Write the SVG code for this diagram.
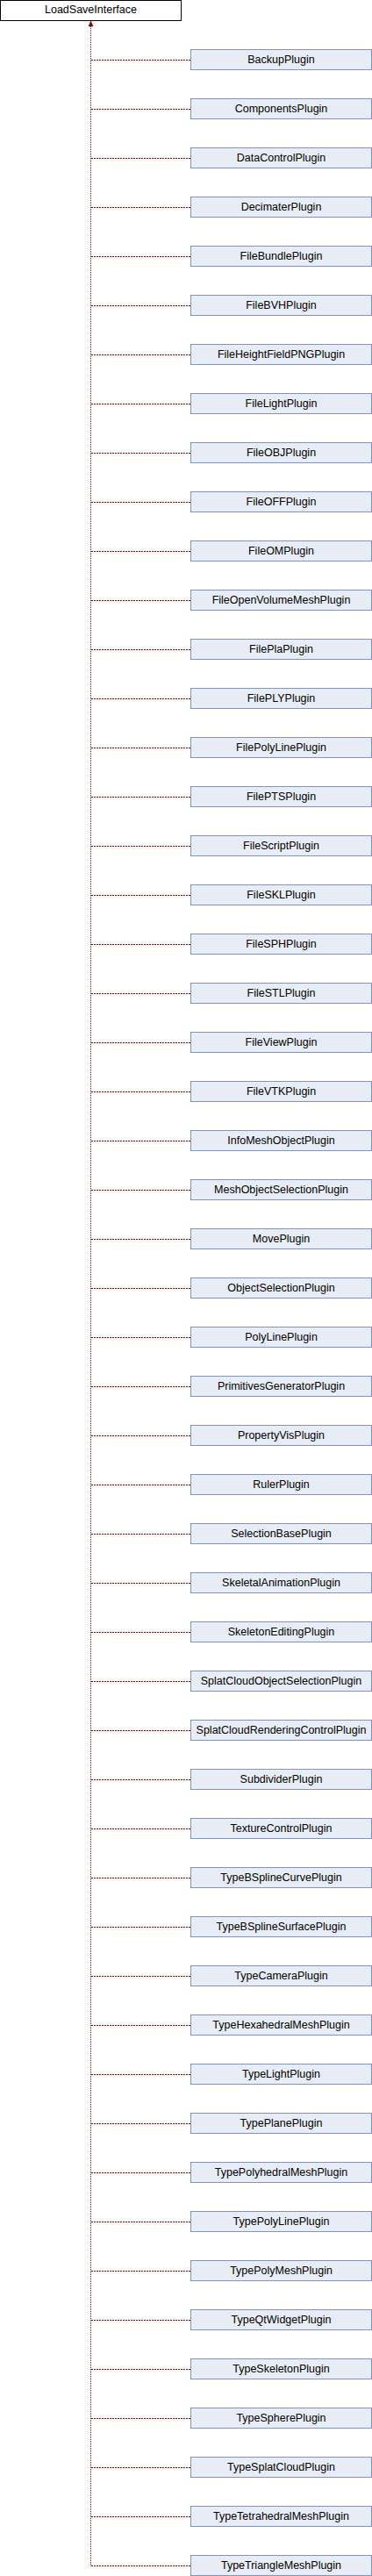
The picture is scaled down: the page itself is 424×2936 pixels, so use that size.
<svg xmlns="http://www.w3.org/2000/svg" width="424" height="2936" viewBox="0 0 424 2936">
<style>
text{font-family:"Liberation Sans",Arial,sans-serif;font-size:12.5px;fill:#000;text-anchor:middle}
.root rect{fill:#fff;stroke:#000;stroke-width:1}
.n rect{fill:#e8ecf5;stroke:#7c95c6;stroke-width:1}
.e{fill:none;stroke:#8b0000;stroke-width:1}
.h{stroke-dasharray:2,1}
.v{stroke-dasharray:1,1}
</style>
<rect width="424" height="2936" fill="#fff"/>
<g id="connectors">
<path class="e v" d="M103.5,30 V2924.5"/>
<polygon points="103.5,24 101,30 106,30" fill="#8b0000" stroke="#8b0000" stroke-width="0.5"/>
<path class="e h" d="M104,68.5H217 M104,124.5H217 M104,180.5H217 M104,236.5H217 M104,292.5H217 M104,348.5H217 M104,404.5H217 M104,460.5H217 M104,516.5H217 M104,572.5H217 M104,628.5H217 M104,684.5H217 M104,740.5H217 M104,796.5H217 M104,852.5H217 M104,908.5H217 M104,964.5H217 M104,1020.5H217 M104,1076.5H217 M104,1132.5H217 M104,1188.5H217 M104,1244.5H217 M104,1300.5H217 M104,1356.5H217 M104,1412.5H217 M104,1468.5H217 M104,1524.5H217 M104,1580.5H217 M104,1636.5H217 M104,1692.5H217 M104,1748.5H217 M104,1804.5H217 M104,1860.5H217 M104,1916.5H217 M104,1972.5H217 M104,2028.5H217 M104,2084.5H217 M104,2140.5H217 M104,2196.5H217 M104,2252.5H217 M104,2308.5H217 M104,2364.5H217 M104,2420.5H217 M104,2476.5H217 M104,2532.5H217 M104,2588.5H217 M104,2644.5H217 M104,2700.5H217 M104,2756.5H217 M104,2812.5H217 M104,2868.5H217 M104,2924.5H217"/>
</g>
<g id="LoadSaveInterface" class="root"><rect x="0.5" y="0.5" width="206" height="23"/><text x="103.5" y="15.4">LoadSaveInterface</text></g>
<g id="BackupPlugin" class="n"><rect x="217.5" y="56.5" width="206" height="23"/><text x="320.5" y="71.7">BackupPlugin</text></g>
<g id="ComponentsPlugin" class="n"><rect x="217.5" y="112.5" width="206" height="23"/><text x="320.5" y="127.7">ComponentsPlugin</text></g>
<g id="DataControlPlugin" class="n"><rect x="217.5" y="168.5" width="206" height="23"/><text x="320.5" y="183.7">DataControlPlugin</text></g>
<g id="DecimaterPlugin" class="n"><rect x="217.5" y="224.5" width="206" height="23"/><text x="320.5" y="239.7">DecimaterPlugin</text></g>
<g id="FileBundlePlugin" class="n"><rect x="217.5" y="280.5" width="206" height="23"/><text x="320.5" y="295.7">FileBundlePlugin</text></g>
<g id="FileBVHPlugin" class="n"><rect x="217.5" y="336.5" width="206" height="23"/><text x="320.5" y="351.7">FileBVHPlugin</text></g>
<g id="FileHeightFieldPNGPlugin" class="n"><rect x="217.5" y="392.5" width="206" height="23"/><text x="320.5" y="407.7">FileHeightFieldPNGPlugin</text></g>
<g id="FileLightPlugin" class="n"><rect x="217.5" y="448.5" width="206" height="23"/><text x="320.5" y="463.7">FileLightPlugin</text></g>
<g id="FileOBJPlugin" class="n"><rect x="217.5" y="504.5" width="206" height="23"/><text x="320.5" y="519.7">FileOBJPlugin</text></g>
<g id="FileOFFPlugin" class="n"><rect x="217.5" y="560.5" width="206" height="23"/><text x="320.5" y="575.7">FileOFFPlugin</text></g>
<g id="FileOMPlugin" class="n"><rect x="217.5" y="616.5" width="206" height="23"/><text x="320.5" y="631.7">FileOMPlugin</text></g>
<g id="FileOpenVolumeMeshPlugin" class="n"><rect x="217.5" y="672.5" width="206" height="23"/><text x="320.5" y="687.7">FileOpenVolumeMeshPlugin</text></g>
<g id="FilePlaPlugin" class="n"><rect x="217.5" y="728.5" width="206" height="23"/><text x="320.5" y="743.7">FilePlaPlugin</text></g>
<g id="FilePLYPlugin" class="n"><rect x="217.5" y="784.5" width="206" height="23"/><text x="320.5" y="799.7">FilePLYPlugin</text></g>
<g id="FilePolyLinePlugin" class="n"><rect x="217.5" y="840.5" width="206" height="23"/><text x="320.5" y="855.7">FilePolyLinePlugin</text></g>
<g id="FilePTSPlugin" class="n"><rect x="217.5" y="896.5" width="206" height="23"/><text x="320.5" y="911.7">FilePTSPlugin</text></g>
<g id="FileScriptPlugin" class="n"><rect x="217.5" y="952.5" width="206" height="23"/><text x="320.5" y="967.7">FileScriptPlugin</text></g>
<g id="FileSKLPlugin" class="n"><rect x="217.5" y="1008.5" width="206" height="23"/><text x="320.5" y="1023.7">FileSKLPlugin</text></g>
<g id="FileSPHPlugin" class="n"><rect x="217.5" y="1064.5" width="206" height="23"/><text x="320.5" y="1079.7">FileSPHPlugin</text></g>
<g id="FileSTLPlugin" class="n"><rect x="217.5" y="1120.5" width="206" height="23"/><text x="320.5" y="1135.7">FileSTLPlugin</text></g>
<g id="FileViewPlugin" class="n"><rect x="217.5" y="1176.5" width="206" height="23"/><text x="320.5" y="1191.7">FileViewPlugin</text></g>
<g id="FileVTKPlugin" class="n"><rect x="217.5" y="1232.5" width="206" height="23"/><text x="320.5" y="1247.7">FileVTKPlugin</text></g>
<g id="InfoMeshObjectPlugin" class="n"><rect x="217.5" y="1288.5" width="206" height="23"/><text x="320.5" y="1303.7">InfoMeshObjectPlugin</text></g>
<g id="MeshObjectSelectionPlugin" class="n"><rect x="217.5" y="1344.5" width="206" height="23"/><text x="320.5" y="1359.7">MeshObjectSelectionPlugin</text></g>
<g id="MovePlugin" class="n"><rect x="217.5" y="1400.5" width="206" height="23"/><text x="320.5" y="1415.7">MovePlugin</text></g>
<g id="ObjectSelectionPlugin" class="n"><rect x="217.5" y="1456.5" width="206" height="23"/><text x="320.5" y="1471.7">ObjectSelectionPlugin</text></g>
<g id="PolyLinePlugin" class="n"><rect x="217.5" y="1512.5" width="206" height="23"/><text x="320.5" y="1527.7">PolyLinePlugin</text></g>
<g id="PrimitivesGeneratorPlugin" class="n"><rect x="217.5" y="1568.5" width="206" height="23"/><text x="320.5" y="1583.7">PrimitivesGeneratorPlugin</text></g>
<g id="PropertyVisPlugin" class="n"><rect x="217.5" y="1624.5" width="206" height="23"/><text x="320.5" y="1639.7">PropertyVisPlugin</text></g>
<g id="RulerPlugin" class="n"><rect x="217.5" y="1680.5" width="206" height="23"/><text x="320.5" y="1695.7">RulerPlugin</text></g>
<g id="SelectionBasePlugin" class="n"><rect x="217.5" y="1736.5" width="206" height="23"/><text x="320.5" y="1751.7">SelectionBasePlugin</text></g>
<g id="SkeletalAnimationPlugin" class="n"><rect x="217.5" y="1792.5" width="206" height="23"/><text x="320.5" y="1807.7">SkeletalAnimationPlugin</text></g>
<g id="SkeletonEditingPlugin" class="n"><rect x="217.5" y="1848.5" width="206" height="23"/><text x="320.5" y="1863.7">SkeletonEditingPlugin</text></g>
<g id="SplatCloudObjectSelectionPlugin" class="n"><rect x="217.5" y="1904.5" width="206" height="23"/><text x="320.5" y="1919.7">SplatCloudObjectSelectionPlugin</text></g>
<g id="SplatCloudRenderingControlPlugin" class="n"><rect x="217.5" y="1960.5" width="206" height="23"/><text x="320.5" y="1975.7">SplatCloudRenderingControlPlugin</text></g>
<g id="SubdividerPlugin" class="n"><rect x="217.5" y="2016.5" width="206" height="23"/><text x="320.5" y="2031.7">SubdividerPlugin</text></g>
<g id="TextureControlPlugin" class="n"><rect x="217.5" y="2072.5" width="206" height="23"/><text x="320.5" y="2087.7">TextureControlPlugin</text></g>
<g id="TypeBSplineCurvePlugin" class="n"><rect x="217.5" y="2128.5" width="206" height="23"/><text x="320.5" y="2143.7">TypeBSplineCurvePlugin</text></g>
<g id="TypeBSplineSurfacePlugin" class="n"><rect x="217.5" y="2184.5" width="206" height="23"/><text x="320.5" y="2199.7">TypeBSplineSurfacePlugin</text></g>
<g id="TypeCameraPlugin" class="n"><rect x="217.5" y="2240.5" width="206" height="23"/><text x="320.5" y="2255.7">TypeCameraPlugin</text></g>
<g id="TypeHexahedralMeshPlugin" class="n"><rect x="217.5" y="2296.5" width="206" height="23"/><text x="320.5" y="2311.7">TypeHexahedralMeshPlugin</text></g>
<g id="TypeLightPlugin" class="n"><rect x="217.5" y="2352.5" width="206" height="23"/><text x="320.5" y="2367.7">TypeLightPlugin</text></g>
<g id="TypePlanePlugin" class="n"><rect x="217.5" y="2408.5" width="206" height="23"/><text x="320.5" y="2423.7">TypePlanePlugin</text></g>
<g id="TypePolyhedralMeshPlugin" class="n"><rect x="217.5" y="2464.5" width="206" height="23"/><text x="320.5" y="2479.7">TypePolyhedralMeshPlugin</text></g>
<g id="TypePolyLinePlugin" class="n"><rect x="217.5" y="2520.5" width="206" height="23"/><text x="320.5" y="2535.7">TypePolyLinePlugin</text></g>
<g id="TypePolyMeshPlugin" class="n"><rect x="217.5" y="2576.5" width="206" height="23"/><text x="320.5" y="2591.7">TypePolyMeshPlugin</text></g>
<g id="TypeQtWidgetPlugin" class="n"><rect x="217.5" y="2632.5" width="206" height="23"/><text x="320.5" y="2647.7">TypeQtWidgetPlugin</text></g>
<g id="TypeSkeletonPlugin" class="n"><rect x="217.5" y="2688.5" width="206" height="23"/><text x="320.5" y="2703.7">TypeSkeletonPlugin</text></g>
<g id="TypeSpherePlugin" class="n"><rect x="217.5" y="2744.5" width="206" height="23"/><text x="320.5" y="2759.7">TypeSpherePlugin</text></g>
<g id="TypeSplatCloudPlugin" class="n"><rect x="217.5" y="2800.5" width="206" height="23"/><text x="320.5" y="2815.7">TypeSplatCloudPlugin</text></g>
<g id="TypeTetrahedralMeshPlugin" class="n"><rect x="217.5" y="2856.5" width="206" height="23"/><text x="320.5" y="2871.7">TypeTetrahedralMeshPlugin</text></g>
<g id="TypeTriangleMeshPlugin" class="n"><rect x="217.5" y="2912.5" width="206" height="23"/><text x="320.5" y="2927.7">TypeTriangleMeshPlugin</text></g>
</svg>
